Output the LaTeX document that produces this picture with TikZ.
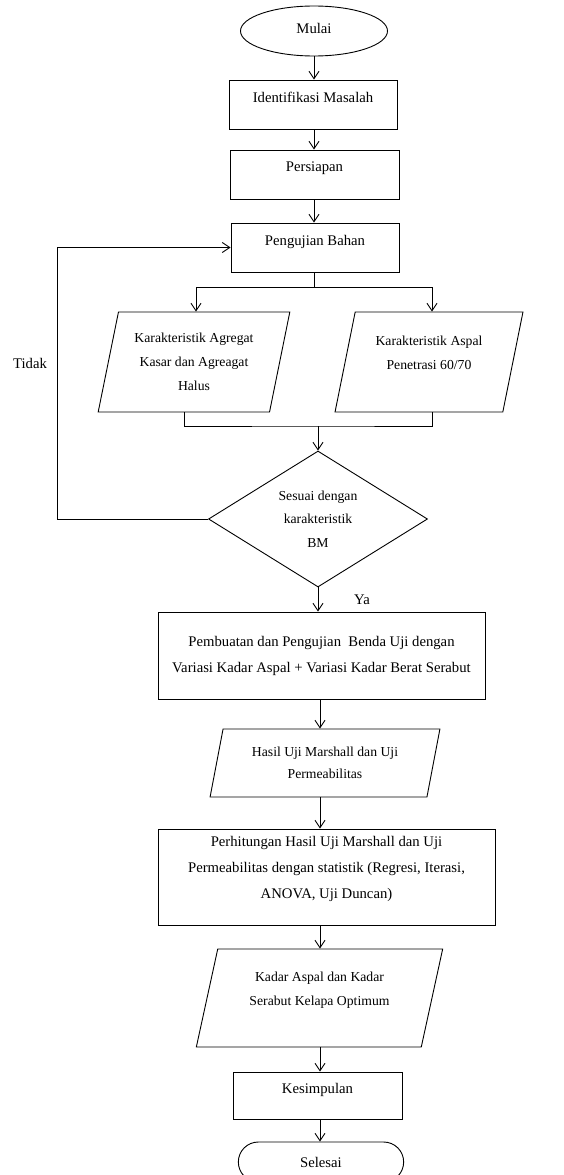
\documentclass[tikz,border=0pt]{standalone}
\usepackage{fontspec}
\setmainfont{Liberation Serif}
\usetikzlibrary{shapes.geometric,shapes.misc,arrows.meta}

\begin{document}
\begin{tikzpicture}[x=1pt, y=-1pt, line width=0.9pt,
  every node/.style={font=\fontsize{14.7}{26}\selectfont, align=center},
  box/.style={draw, rectangle, inner sep=3pt},
  data/.style={draw, trapezium, trapezium left angle=75, trapezium right angle=105,
               trapezium stretches=true, inner sep=2pt, font=\fontsize{13.7}{24}\selectfont},
  arr/.style={-{Straight Barb[length=7.5pt,width=10pt]}}]
  \useasboundingbox (0,0) rectangle (563,1175);

  % --- kolom atas ---
  \node[draw, ellipse, minimum width=147pt, minimum height=50pt, text depth=6pt] (mulai) at (314,31) {Mulai};
  \node[box, minimum width=168pt, minimum height=49pt, text depth=14pt] (ident) at (313,104.5) {Identifikasi Masalah};
  \node[box, minimum width=169pt, minimum height=49pt, text depth=16pt] (siap) at (314.5,174.5) {Persiapan};
  \node[box, minimum width=168pt, minimum height=49pt, text depth=14pt] (uji) at (315,247.5) {Pengujian Bahan};

  % --- karakteristik bahan ---
  \node[data, minimum width=192pt, minimum height=100pt] (agregat) at (194,362)
    {Karakteristik Agregat\\Kasar dan Agreagat\\Halus};
  \node[data, minimum width=188pt, minimum height=100pt, text depth=19pt] (aspal) at (429,362)
    {Karakteristik Aspal\\Penetrasi 60/70};
  \coordinate (gabung) at (318,426);

  % --- keputusan ---
  \node[draw, diamond, aspect=1.6, inner sep=0pt, minimum width=219pt, minimum height=136pt,
        font=\fontsize{13.7}{23.5}\selectfont] (cek) at (318,519)
    {Sesuai dengan\\karakteristik\\BM};
  \node (tidak) at (30,363) {Tidak};
  \node (ya) at (362,600) {Ya};

  % --- kolom bawah ---
  \coordinate (poros) at (320,0);
  \node[box, minimum width=327pt, minimum height=87pt] (benda) at (321.5,655.5)
    {Pembuatan dan Pengujian\ \ Benda Uji dengan\\Variasi Kadar Aspal + Variasi Kadar Berat Serabut};
  \node[data, minimum width=230pt, minimum height=68pt, font=\fontsize{13.7}{22}\selectfont] (hasil) at (325,763)
    {Hasil Uji Marshall dan Uji\\Permeabilitas};
  \node[box, minimum width=337pt, minimum height=96pt, text depth=19pt] (hitung) at (326.5,877)
    {Perhitungan Hasil Uji Marshall dan Uji\\Permeabilitas dengan statistik (Regresi, Iterasi,\\ANOVA, Uji Duncan)};
  \node[data, minimum width=247pt, minimum height=98pt, text depth=19pt] (optimum) at (319.5,998)
    {Kadar Aspal dan Kadar\\Serabut Kelapa Optimum};
  \node[box, minimum width=169pt, minimum height=47pt, text depth=14pt] (simpul) at (317.5,1095.5) {Kesimpulan};
  \node[draw, rounded rectangle, minimum width=172pt, minimum height=40pt] (selesai) at (321,1162) {Selesai};

  % --- panah ---
  \draw[arr] (mulai.south) -- (mulai.south |- ident.north);
  \draw[arr] (ident.south -| mulai.south) -- (siap.north -| mulai.south);
  \draw[arr] (siap.south -| mulai.south) -- (uji.north -| mulai.south);
  \draw[arr] (uji.south -| mulai.south) -- ++(0,15) -| ([xshift=2pt]agregat.north);
  \draw[arr] (uji.south -| mulai.south) -- ++(0,15) -| ([xshift=3pt]aspal.north);
  \draw ([xshift=-10pt]agregat.south) |- (gabung) -| ([xshift=3pt]aspal.south);
  \draw[arr] (gabung) -- (cek.north);
  \draw[arr] (cek.west) -- ++(-151,0) |- (uji.west);
  \draw[arr] (cek.south) -- (cek.south |- benda.north);
  \draw[arr] (benda.south -| poros) -- (hasil.north -| poros);
  \draw[arr] (hasil.south -| poros) -- (hitung.north -| poros);
  \draw[arr] (hitung.south -| poros) -- (optimum.north -| poros);
  \draw[arr] (optimum.south -| poros) -- (simpul.north -| poros);
  \draw[arr] (simpul.south -| poros) -- (selesai.north -| poros);
\end{tikzpicture}
\end{document}
